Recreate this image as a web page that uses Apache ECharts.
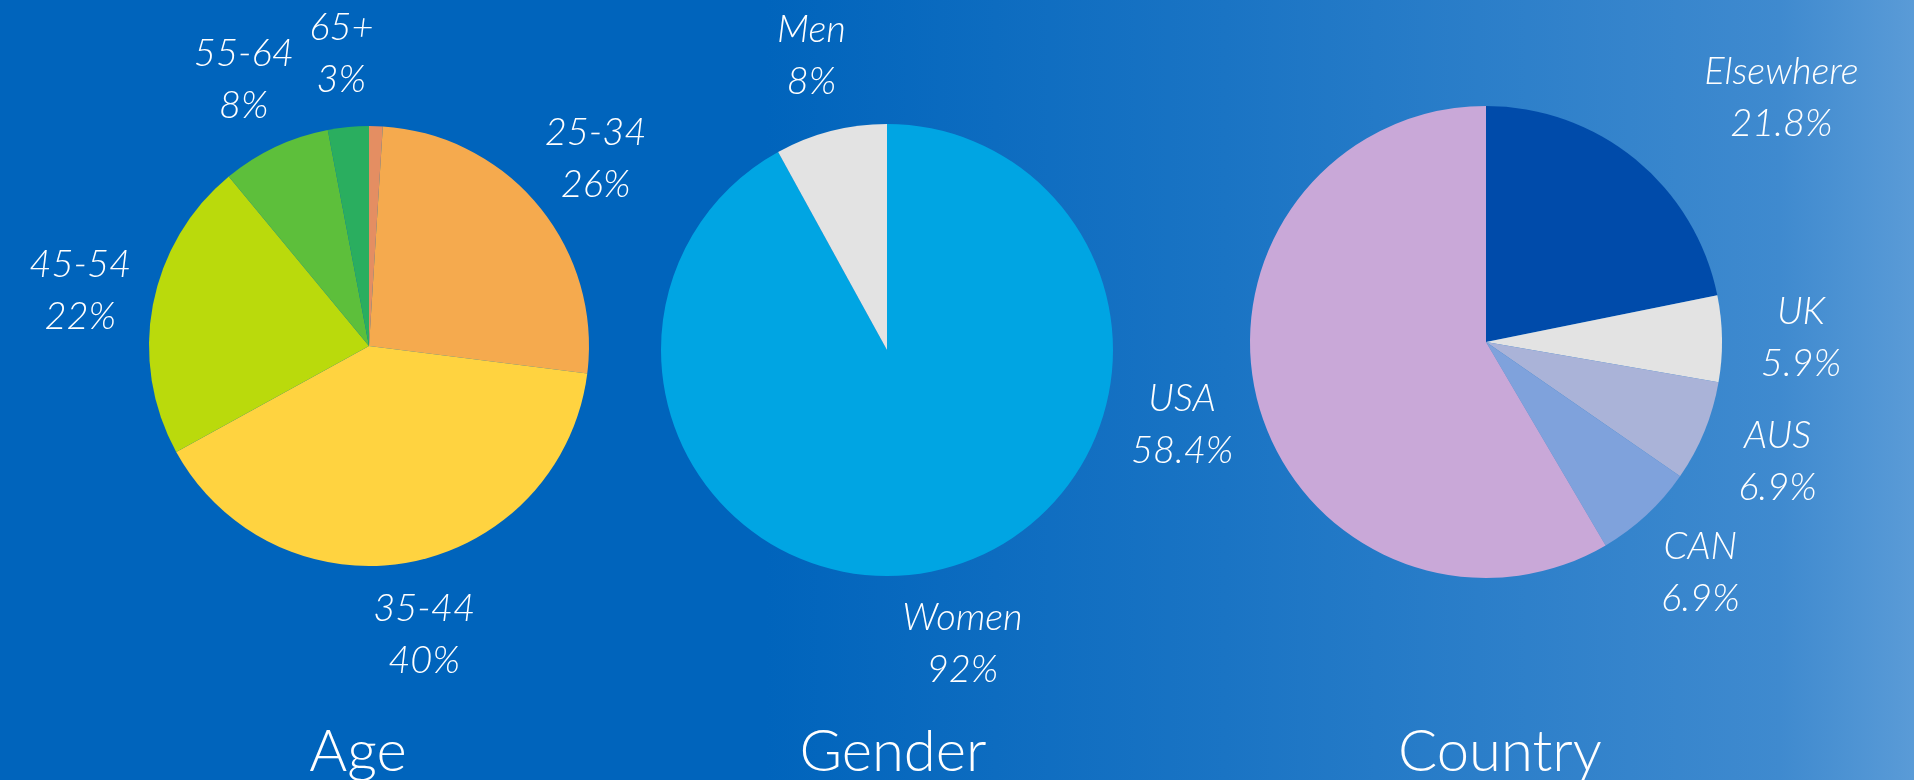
<!DOCTYPE html>
<html>
<head>
<meta charset="utf-8">
<script src="https://cdn.jsdelivr.net/npm/echarts@6/dist/echarts.min.js"></script>
<style>
  html, body { margin: 0; padding: 0; }
  #chart { width: 1914px; height: 780px; }
</style>
</head>
<body>
<div id="chart"></div>
<script>
// age groups, clockwise from 12 o'clock (first slice has no label in the original)
const ageNames = ['18-24', '25-34', '35-44', '45-54', '55-64', '65+'];
const ageValues = [1, 26, 40, 22, 8, 3];
const ageColors = ['#E48E62', '#F5AA4E', '#FFD340', '#BADA0C', '#5DBF3B', '#2AAE5F'];

const genderNames = ['Women', 'Men'];
const genderValues = [92, 8];
const genderColors = ['#00A5E3', '#E3E3E3'];

const countryNames = ['Elsewhere', 'UK', 'AUS', 'CAN', 'USA'];
const countryValues = [21.8, 5.9, 6.9, 6.9, 58.4];
const countryColors = ['#004BAA', '#E3E3E3', '#AAB3D8', '#7FA2DC', '#C9A8D8'];

const titles = ['Age', 'Gender', 'Country'];

const chart = echarts.init(document.getElementById('chart'));

const labelFont = {
  color: '#FFFFFF',
  fontFamily: 'Lato, "Open Sans", sans-serif',
  fontStyle: 'italic',
  fontWeight: 300,
  fontSize: 38,
  lineHeight: 52
};

// the visible pie
function pie(names, values, colors, center, radius) {
  return {
    type: 'pie',
    center: center,
    radius: radius,
    startAngle: 90,
    clockwise: true,
    silent: true,
    animation: false,
    label: { show: false },
    labelLine: { show: false },
    itemStyle: { borderWidth: 0 },
    emphasis: { disabled: true },
    data: names.map((n, i) => ({ name: n, value: values[i], itemStyle: { color: colors[i] } }))
  };
}

// an invisible ring with the same data; its inside labels sit out beyond the pie
function labelRing(names, values, center, r0, r1, hidden) {
  return {
    type: 'pie',
    center: center,
    radius: [r0, r1],
    startAngle: 90,
    clockwise: true,
    silent: true,
    animation: false,
    avoidLabelOverlap: false,
    itemStyle: { color: 'rgba(0,0,0,0)', borderWidth: 0 },
    emphasis: { disabled: true },
    labelLine: { show: false },
    label: Object.assign({ show: true, position: 'inside', formatter: '{b}\n{c}%' }, labelFont),
    data: names.map((n, i) => ({
      name: n,
      value: values[i],
      label: { show: !(hidden || []).includes(n) }
    }))
  };
}

const titleStyle = {
  color: '#FFFFFF',
  fontFamily: 'Lato, "Open Sans", sans-serif',
  fontWeight: 300,
  fontSize: 58
};

const option = {
  backgroundColor: {
    type: 'linear',
    x: 0, y: 0, x2: 1, y2: 0,
    colorStops: [
      { offset: 0, color: '#0064BC' },
      { offset: 0.40, color: '#0064BC' },
      { offset: 0.64, color: '#1A74C4' },
      { offset: 0.93, color: '#3F8ACF' },
      { offset: 1, color: '#5A9BD7' }
    ]
  },
  title: [
    { text: titles[0], left: 353, top: 718, textAlign: 'center', textStyle: titleStyle },
    { text: titles[1], left: 888, top: 718, textAlign: 'center', textStyle: titleStyle },
    { text: titles[2], left: 1495, top: 718, textAlign: 'center', textStyle: titleStyle }
  ],
  series: [
    pie(ageNames, ageValues, ageColors, [369, 346], 220),
    pie(genderNames, genderValues, genderColors, [887, 350], 226),
    pie(countryNames, countryValues, countryColors, [1486, 342], 236),
    labelRing(ageNames, ageValues, [369, 346], 220, 362, ['18-24']),
    labelRing(genderNames, genderValues, [887, 350], 226, 375),
    Object.assign(labelRing(countryNames, countryValues, [1486, 342], 236, 388), {
      // Elsewhere label is pushed out to the right in the original
      labelLayout: function (params) {
        return params.dataIndex === 0 ? { dx: 96 } : {};
      }
    })
  ]
};

chart.setOption(option);
</script>
</body>
</html>
